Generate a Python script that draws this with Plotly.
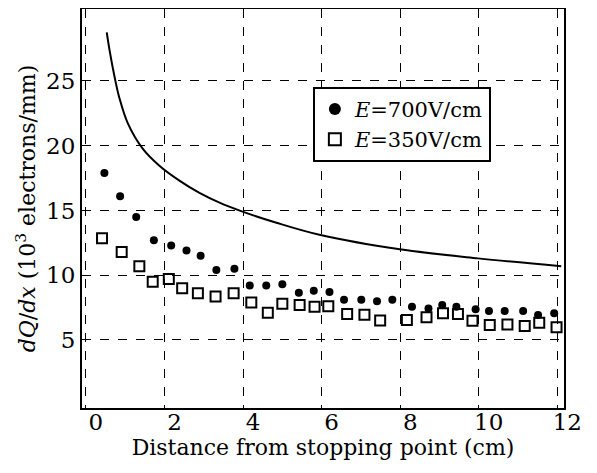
import plotly.graph_objects as go

# E = 700 V/cm (filled circles)
x700 = [0.47, 0.87, 1.28, 1.73, 2.17, 2.56, 2.92, 3.32, 3.78, 4.17, 4.59, 5.0, 5.42, 5.80,
        6.20, 6.57, 7.01, 7.41, 7.80, 8.30, 8.72, 9.07, 9.43, 9.92, 10.26, 10.66, 11.13, 11.51, 11.92]
y700 = [17.9, 16.1, 14.5, 12.7, 12.3, 11.9, 11.5, 10.4, 10.5, 9.2, 9.2, 9.3, 8.65, 8.8,
        8.7, 8.1, 8.1, 8.0, 8.1, 7.57, 7.44, 7.7, 7.57, 7.37, 7.24, 7.24, 7.24, 6.93, 7.06]

# E = 350 V/cm (open squares)
x350 = [0.41, 0.91, 1.36, 1.70, 2.11, 2.45, 2.85, 3.30, 3.76, 4.21, 4.63, 5.0, 5.44, 5.82,
        6.17, 6.65, 7.09, 7.49, 8.17, 8.67, 9.09, 9.47, 9.84, 10.28, 10.73, 11.17, 11.54, 11.98]
y350 = [12.85, 11.8, 10.7, 9.5, 9.7, 9.0, 8.6, 8.35, 8.6, 7.9, 7.1, 7.8, 7.7, 7.57,
        7.6, 7.0, 6.95, 6.5, 6.54, 6.75, 7.06, 7.0, 6.49, 6.15, 6.2, 6.08, 6.33, 5.98]

# Solid reference curve
xcurve = [0.53, 0.60, 0.73, 0.85, 1.07, 1.45, 1.87, 2.38, 2.89, 3.40, 3.95, 4.85, 5.97, 7.99, 9.98, 12.1]
ycurve = [28.75, 27.4, 25.3, 23.7, 21.7, 19.75, 18.45, 17.3, 16.35, 15.6, 14.95, 14.05, 13.1, 12.0, 11.3, 10.7]

xticks = [0, 2, 4, 6, 8, 10, 12]
yticks = [5, 10, 15, 20, 25]

FONT = "DejaVu Serif"

fig = go.Figure()
fig.add_trace(go.Scatter(x=xcurve, y=ycurve, mode="lines",
                         line=dict(color="black", width=2, shape="spline", smoothing=1.0),
                         showlegend=False, hoverinfo="skip"))
fig.add_trace(go.Scatter(x=x700, y=y700, mode="markers", name="<i>E</i>=700V/cm",
                         marker=dict(symbol="circle", size=8, color="black")))
fig.add_trace(go.Scatter(x=x350, y=y350, mode="markers", name="<i>E</i>=350V/cm",
                         marker=dict(symbol="square-open", size=10, color="black",
                                     line=dict(width=2, color="black"))))

axis_common = dict(showline=True, linecolor="black", linewidth=2, mirror=True,
                   showgrid=True, gridcolor="black", gridwidth=1.3, griddash="dash",
                   zeroline=False, ticks="", automargin=False,
                   tickfont=dict(family=FONT, size=23, color="black"))

fig.update_xaxes(range=[-0.1, 12.17], tickvals=xticks, ticktext=[str(v) for v in xticks],
                 ticklabelshift=10, ticklabelstandoff=-8,
                 title=dict(text="Distance from stopping point (cm)",
                            font=dict(family=FONT, size=22, color="black"), standoff=0),
                 **axis_common)
fig.update_yaxes(range=[-0.25, 30.55], tickvals=yticks, ticktext=[str(v) for v in yticks],
                 title=dict(text="<i>dQ</i>/<i>dx</i> (10<sup>3</sup> electrons/mm)",
                            font=dict(family=FONT, size=22, color="black"), standoff=4),
                 **axis_common)

# page body has an 8px margin, so the figure is sized/offset to compensate
fig.update_layout(width=589, height=465, margin=dict(l=74, r=33, t=1, b=65),
                  plot_bgcolor="white", paper_bgcolor="white",
                  font=dict(family=FONT, color="black"),
                  legend=dict(x=0.479, y=0.805, xanchor="left", yanchor="top",
                              bgcolor="white", bordercolor="black", borderwidth=2,
                              font=dict(family=FONT, size=21, color="black"),
                              itemsizing="constant", tracegroupgap=0))

fig.write_html("out.html")
